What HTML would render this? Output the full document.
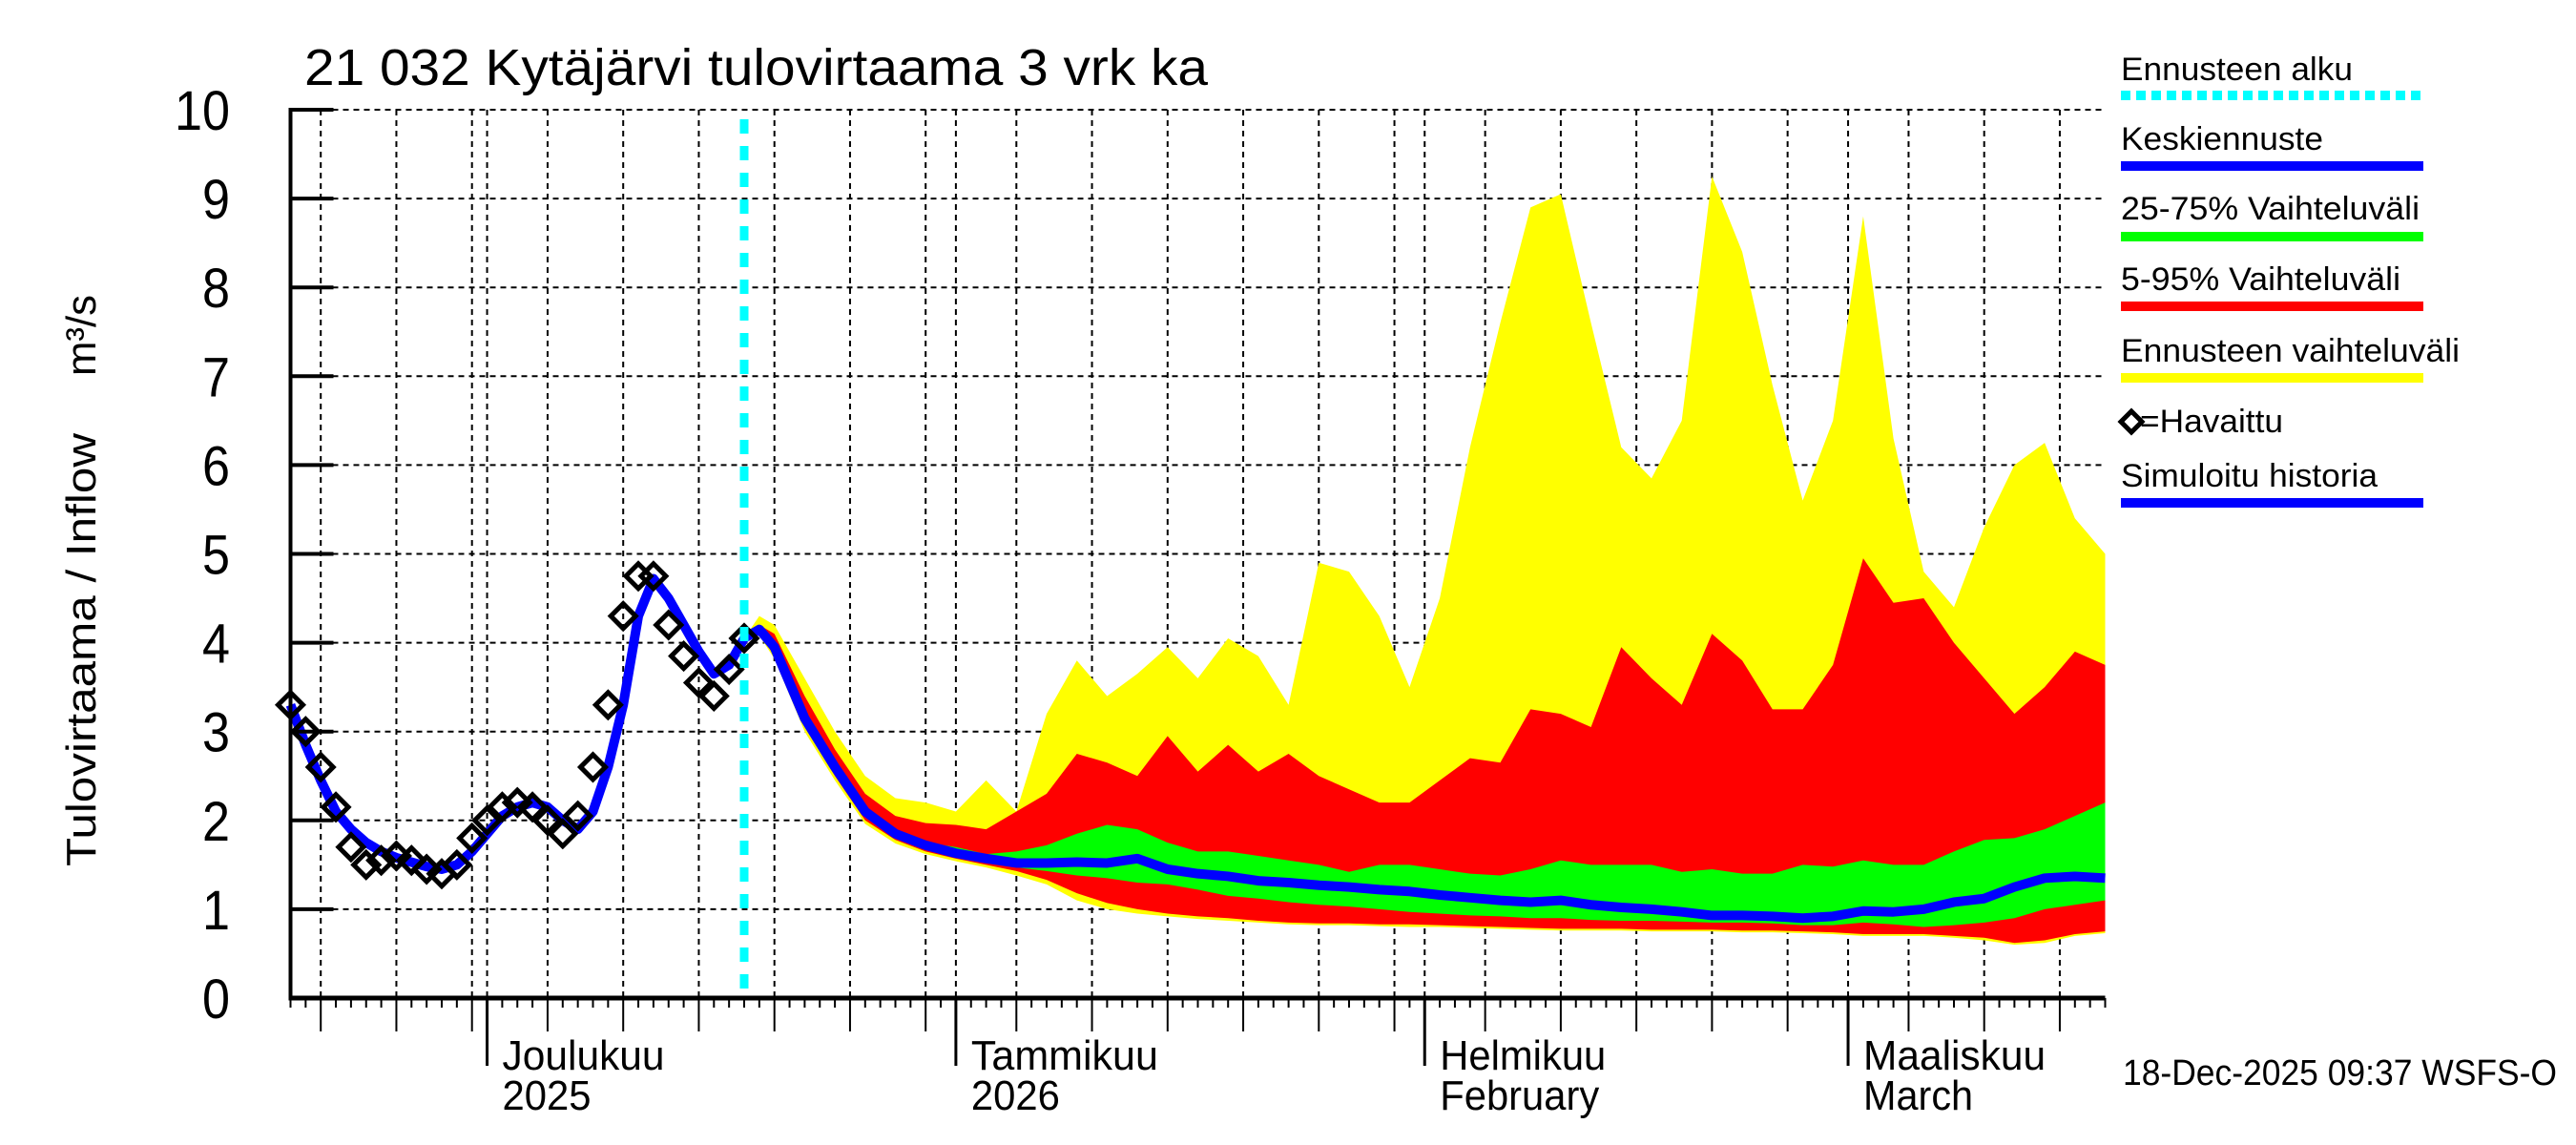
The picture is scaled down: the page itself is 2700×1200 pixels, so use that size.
<!DOCTYPE html>
<html><head><meta charset="utf-8"><style>
html,body{margin:0;padding:0;background:#fff;}
svg{display:block;font-family:"Liberation Sans",sans-serif;}
</style></head><body>
<svg id="chart" xmlns="http://www.w3.org/2000/svg" width="2700" height="1200" viewBox="0 0 2700 1200">
<rect x="0" y="0" width="2700" height="1200" fill="#fff"/>
<g id="grid"></g>
<g id="bands"></g>
<g id="lines"></g>
<g id="axes"></g>
<text x="319" y="89" font-size="54" textLength="947" lengthAdjust="spacingAndGlyphs">21 032 Kytäjärvi tulovirtaama 3 vrk ka</text>
<text transform="translate(100,908) rotate(-90)" font-size="44" textLength="454" lengthAdjust="spacingAndGlyphs">Tulovirtaama / Inflow</text>
<text transform="translate(100,394) rotate(-90)" font-size="44" textLength="85" lengthAdjust="spacingAndGlyphs">m³/s</text>
<text x="2225" y="1137" font-size="38" textLength="455" lengthAdjust="spacingAndGlyphs">18-Dec-2025 09:37 WSFS-O</text>
<g>
<text x="2223" y="84" font-size="34" textLength="243" lengthAdjust="spacingAndGlyphs">Ennusteen alku</text>
<line x1="2223" y1="100" x2="2540" y2="100" stroke="#00ffff" stroke-width="10" stroke-dasharray="10 6"/>
<text x="2223" y="157" font-size="34" textLength="212" lengthAdjust="spacingAndGlyphs">Keskiennuste</text>
<line x1="2223" y1="174" x2="2540" y2="174" stroke="#0000ff" stroke-width="10"/>
<text x="2223" y="230" font-size="34" textLength="313" lengthAdjust="spacingAndGlyphs">25-75% Vaihteluväli</text>
<line x1="2223" y1="248" x2="2540" y2="248" stroke="#00ff00" stroke-width="10"/>
<text x="2223" y="304" font-size="34" textLength="293" lengthAdjust="spacingAndGlyphs">5-95% Vaihteluväli</text>
<line x1="2223" y1="321" x2="2540" y2="321" stroke="#ff0000" stroke-width="10"/>
<text x="2223" y="379" font-size="34" textLength="355" lengthAdjust="spacingAndGlyphs">Ennusteen vaihteluväli</text>
<line x1="2223" y1="396" x2="2540" y2="396" stroke="#ffff00" stroke-width="10"/>
<path d="M2223,442 l11,-11 l11,11 l-11,11 z" fill="none" stroke="#000" stroke-width="5"/>
<text x="2243" y="453" font-size="34" textLength="150" lengthAdjust="spacingAndGlyphs">=Havaittu</text>
<text x="2223" y="510" font-size="34" textLength="269" lengthAdjust="spacingAndGlyphs">Simuloitu historia</text>
<line x1="2223" y1="527" x2="2540" y2="527" stroke="#0000ff" stroke-width="10"/>
</g>
</svg>
<script>
const obsDays = [0,1,2,3,4,5,6,7,8,9,10,11,12,13,14,15,16,17,18,19,20,21,22,23,24,25,26,27,28,29,30];
const obsValues = [3.3,3.0,2.6,2.15,1.7,1.5,1.55,1.6,1.55,1.45,1.4,1.5,1.8,2.0,2.15,2.2,2.15,2.0,1.85,2.05,2.6,3.3,4.3,4.75,4.75,4.2,3.85,3.55,3.4,3.7,4.05];
const simValues = [3.3,2.85,2.45,2.1,1.9,1.75,1.65,1.58,1.53,1.48,1.45,1.5,1.65,1.85,2.05,2.15,2.2,2.15,2.0,1.9,2.1,2.6,3.3,4.3,4.72,4.5,4.2,3.9,3.65,3.75,4.05];
const fcDays = [30,31,32,34,36,38,40,42,44,46,48,50,52,54,56,58,60,62,64,66,68,70,72,74,76,78,80,82,84,86,88,90,92,94,96,98,100,102,104,106,108,110,112,114,116,118,120];
const yMax = [4.05,4.3,4.2,3.6,3.0,2.5,2.25,2.2,2.1,2.45,2.1,3.2,3.8,3.4,3.65,3.95,3.6,4.05,3.85,3.3,4.9,4.8,4.3,3.5,4.5,6.2,7.6,8.9,9.05,7.6,6.2,5.85,6.5,9.25,8.4,6.9,5.6,6.5,8.8,6.3,4.8,4.4,5.3,6.0,6.25,5.4,5.0];
const r95 = [4.05,4.2,4.1,3.4,2.8,2.3,2.05,1.97,1.95,1.9,2.1,2.3,2.75,2.65,2.5,2.95,2.55,2.85,2.55,2.75,2.5,2.35,2.2,2.2,2.45,2.7,2.65,3.25,3.2,3.05,3.95,3.6,3.3,4.1,3.8,3.25,3.25,3.75,4.95,4.45,4.5,4.0,3.6,3.2,3.5,3.9,3.75];
const g75 = [4.05,4.15,4.0,3.2,2.65,2.15,1.85,1.75,1.7,1.62,1.65,1.72,1.85,1.95,1.9,1.75,1.65,1.65,1.6,1.55,1.5,1.42,1.5,1.5,1.45,1.4,1.38,1.45,1.55,1.5,1.5,1.5,1.42,1.45,1.4,1.4,1.5,1.48,1.55,1.5,1.5,1.65,1.78,1.8,1.9,2.05,2.2];
const median = [4.05,4.15,3.95,3.15,2.6,2.1,1.85,1.72,1.63,1.57,1.52,1.52,1.53,1.52,1.57,1.45,1.4,1.37,1.32,1.3,1.27,1.25,1.22,1.2,1.16,1.13,1.1,1.08,1.1,1.05,1.02,1.0,0.97,0.93,0.93,0.92,0.9,0.92,0.98,0.97,1.0,1.08,1.12,1.25,1.35,1.37,1.35];
const g25 = [4.05,4.1,3.9,3.1,2.55,2.05,1.8,1.68,1.6,1.53,1.47,1.43,1.38,1.35,1.3,1.28,1.22,1.15,1.12,1.08,1.05,1.03,1.0,0.97,0.95,0.93,0.92,0.9,0.9,0.88,0.87,0.87,0.86,0.85,0.85,0.84,0.82,0.82,0.85,0.83,0.8,0.82,0.85,0.9,1.0,1.05,1.1];
const r05 = [4.05,4.1,3.85,3.05,2.5,2.0,1.78,1.65,1.57,1.5,1.43,1.33,1.18,1.07,1.0,0.95,0.92,0.9,0.87,0.85,0.84,0.84,0.83,0.83,0.82,0.81,0.8,0.79,0.78,0.78,0.78,0.77,0.77,0.77,0.76,0.76,0.75,0.74,0.72,0.72,0.72,0.7,0.68,0.62,0.65,0.72,0.75];
const yMin = [4.05,4.08,3.82,3.0,2.45,1.96,1.74,1.62,1.54,1.47,1.38,1.28,1.1,1.0,0.95,0.92,0.89,0.87,0.85,0.83,0.82,0.82,0.81,0.8,0.8,0.79,0.78,0.77,0.76,0.76,0.76,0.75,0.75,0.75,0.74,0.74,0.73,0.72,0.7,0.7,0.7,0.68,0.65,0.6,0.62,0.7,0.73];
const yTicks = [0,1,2,3,4,5,6,7,8,9,10];
const monthLabels = [["Joulukuu","2025",13,170,93],["Tammikuu","2026",44,196,93],["Helmikuu","February",75,174,167],["Maaliskuu","March",103,191,115]];
const forecastStartDay = 30;

const X0 = 304.5, DX = 15.85, Y0 = 1046, DY = 93.1, XEND = 2206.5;
function xs(d){ return X0 + d*DX; }
function ys(v){ return Y0 - v*DY; }
const NS = "http://www.w3.org/2000/svg";
function mk(tag, attrs, parent){ const e = document.createElementNS(NS, tag); for (const k in attrs) e.setAttribute(k, attrs[k]); parent.appendChild(e); return e; }
const grid = document.getElementById('grid'), bands = document.getElementById('bands'), lines = document.getElementById('lines'), axes = document.getElementById('axes');

// tick day classification
const monthStarts = [13,44,75,103];
const fiveDays = [2,7,12];
for (let d=5; d<=30; d+=5) fiveDays.push(12+d);
for (let d=5; d<=30; d+=5) fiveDays.push(43+d);
for (let d=5; d<=25; d+=5) fiveDays.push(74+d);
for (let d=5; d<=15; d+=5) fiveDays.push(102+d);

// grid
yTicks.forEach(v => {
  if (v>0) { const l = mk('line',{x1:X0,x2:XEND,y1:ys(v),y2:ys(v),stroke:'#000','stroke-width':2,'stroke-dasharray':'6 5'},grid);
  
   }
});
fiveDays.concat(monthStarts).forEach(d => {
  const l = mk('line',{x1:xs(d),x2:xs(d),y1:ys(10),y2:Y0,stroke:'#000','stroke-width':2,'stroke-dasharray':'6 5'},grid);
  
  
});

function band(upper, lower, color, name){
  let p = fcDays.map((d,i)=>xs(d)+','+ys(upper[i]));
  for (let i=fcDays.length-1;i>=0;i--) p.push(xs(fcDays[i])+','+ys(lower[i]));
  const e = mk('polygon',{points:p.join(' '),fill:color},bands);
  
  
}
band(yMax, yMin, '#ffff00', 'forecast-range-band');
band(r95, r05, '#ff0000', 'band-5-95');
band(g75, g25, '#00ff00', 'band-25-75');

const sim = mk('polyline',{points:obsDays.map((d,i)=>xs(d)+','+ys(simValues[i])).join(' '),fill:'none',stroke:'#0000ff','stroke-width':10,'stroke-linejoin':'round'},lines);


const med = mk('polyline',{points:fcDays.map((d,i)=>xs(d)+','+ys(median[i])).join(' '),fill:'none',stroke:'#0000ff','stroke-width':10,'stroke-linejoin':'round'},lines);



obsDays.forEach((d,i)=>{
  const x = xs(d), y = ys(obsValues[i]);
  const e = mk('path',{d:`M${x-13},${y} L${x},${y-13} L${x+13},${y} L${x},${y+13} Z`,fill:'none',stroke:'#000','stroke-width':5},lines);
  
  
});

const fs = mk('line',{x1:xs(forecastStartDay),x2:xs(forecastStartDay),y1:ys(10)+10,y2:Y0,stroke:'#00ffff','stroke-width':9,'stroke-dasharray':'15 13'},lines);



// axes
mk('line',{x1:X0,x2:X0,y1:ys(10)-2,y2:Y0+2,stroke:'#000','stroke-width':4},axes);
mk('line',{x1:X0-2,x2:XEND,y1:Y0,y2:Y0,stroke:'#000','stroke-width':5},axes);
yTicks.forEach(v=>{
  mk('line',{x1:X0,x2:X0+45,y1:ys(v),y2:ys(v),stroke:'#000','stroke-width':4},axes);
  const t = mk('text',{x:241,y:ys(v)+21,'font-size':58,'text-anchor':'end',textLength:String(v).length*29,lengthAdjust:'spacingAndGlyphs'},axes);
  t.textContent = v;
  
  
});
for (let d=0; d<=120; d++){
  let len = 10;
  if (fiveDays.includes(d)) len = 35;
  if (monthStarts.includes(d)) len = 71;
  mk('line',{x1:xs(d),x2:xs(d),y1:Y0,y2:Y0+len,stroke:'#000','stroke-width':monthStarts.includes(d)?3:2},axes);
}
monthLabels.forEach(m=>{
  const x = xs(m[2]) + 16;
  const t1 = mk('text',{x:x,y:1121,'font-size':44,textLength:m[3],lengthAdjust:'spacingAndGlyphs'},axes);
  t1.textContent = m[0];
  
  
  const t2 = mk('text',{x:x,y:1163,'font-size':44,textLength:m[4],lengthAdjust:'spacingAndGlyphs'},axes);
  t2.textContent = m[1];
  
  
});
</script>
</body></html>
